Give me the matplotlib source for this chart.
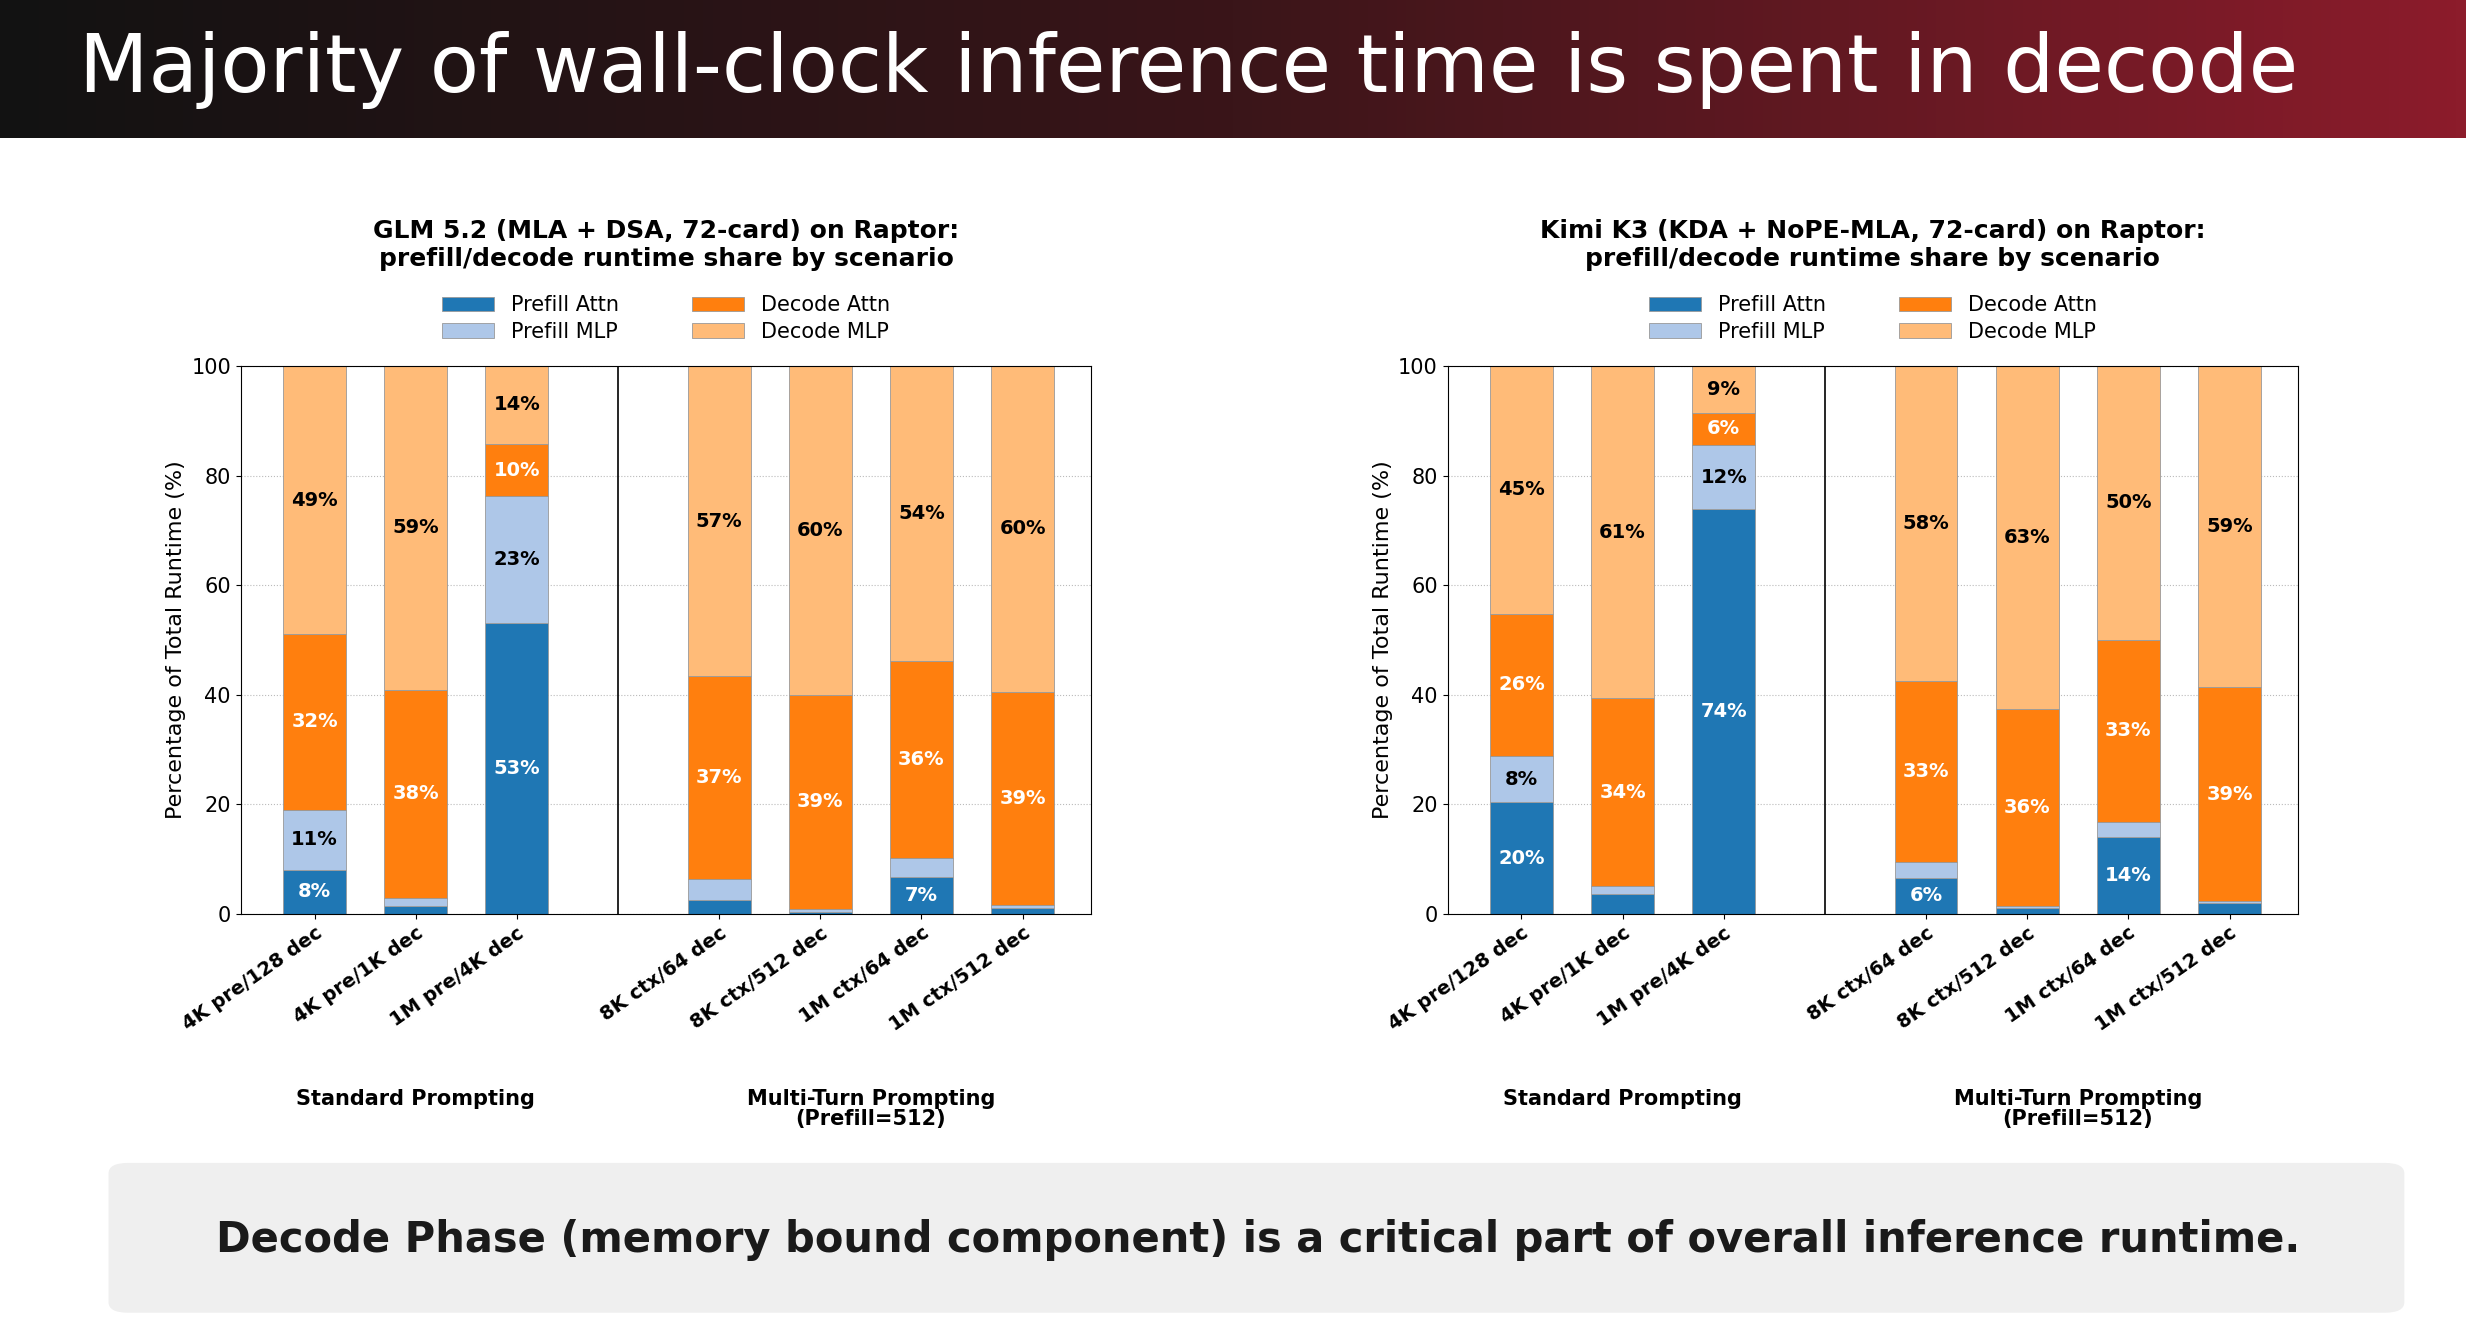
import matplotlib.pyplot as plt
import numpy as np
from matplotlib.patches import FancyBboxPatch
from matplotlib.colors import LinearSegmentedColormap

scenarios = ['4K pre/128 dec', '4K pre/1K dec', '1M pre/4K dec',
             '8K ctx/64 dec', '8K ctx/512 dec', '1M ctx/64 dec', '1M ctx/512 dec']
positions = [0, 1, 2, 4, 5, 6, 7]
series = ['Prefill Attn', 'Prefill MLP', 'Decode Attn', 'Decode MLP']
colors = ['#1f77b4', '#aec7e8', '#ff7f0e', '#ffbb78']
text_colors = ['white', 'black', 'white', 'black']

glm_prefill_attn = [8.0, 1.4, 53.0, 2.5, 0.3, 6.7, 1.0]
glm_prefill_mlp = [11.0, 1.5, 23.2, 3.8, 0.5, 3.5, 0.5]
glm_decode_attn = [32.0, 38.0, 9.6, 37.0, 39.2, 36.0, 39.0]
glm_decode_mlp = [49.0, 59.1, 14.2, 56.7, 60.0, 53.8, 59.5]

kimi_prefill_attn = [20.3, 3.5, 73.8, 6.5, 1.0, 14.0, 2.0]
kimi_prefill_mlp = [8.5, 1.5, 11.8, 3.0, 0.3, 2.7, 0.3]
kimi_decode_attn = [26.0, 34.3, 5.8, 33.0, 36.0, 33.3, 39.0]
kimi_decode_mlp = [45.2, 60.7, 8.6, 57.5, 62.7, 50.0, 58.7]

charts = [
    ('GLM 5.2 (MLA + DSA, 72-card) on Raptor:\nprefill/decode runtime share by scenario',
     [glm_prefill_attn, glm_prefill_mlp, glm_decode_attn, glm_decode_mlp]),
    ('Kimi K3 (KDA + NoPE-MLA, 72-card) on Raptor:\nprefill/decode runtime share by scenario',
     [kimi_prefill_attn, kimi_prefill_mlp, kimi_decode_attn, kimi_decode_mlp]),
]

fig = plt.figure(figsize=(24.66, 13.26), dpi=100)

# header banner with gradient
bg = fig.add_axes([0, 0.896, 1, 0.104])
cmap = LinearSegmentedColormap.from_list('hdr', ['#121212', '#3a1519', '#8c1c2b'])
bg.imshow(np.linspace(0, 1, 256)[None, :], aspect='auto', cmap=cmap, extent=[0, 1, 0, 1])
bg.set_axis_off()
fig.text(0.032, 0.947, 'Majority of wall-clock inference time is spent in decode',
         color='white', fontsize=58, va='center', ha='left')

# bottom callout
fig.patches.append(FancyBboxPatch((0.044, 0.01), 0.931, 0.113,
                                  boxstyle='round,pad=0,rounding_size=0.008',
                                  transform=fig.transFigure, facecolor='#efefef',
                                  edgecolor='none'))
fig.text(0.51, 0.065,
         'Decode Phase (memory bound component) is a critical part of overall inference runtime.',
         ha='center', va='center', fontsize=30, fontweight='bold', color='#1a1a1a')

lefts = [0.0976, 0.587]
for left, (title, data) in zip(lefts, charts):
    ax = fig.add_axes([left, 0.311, 0.345, 0.413])
    bottom = np.zeros(len(positions))
    for vals, name, col, tc in zip(data, series, colors, text_colors):
        vals = np.array(vals)
        ax.bar(positions, vals, 0.62, bottom=bottom, color=col, label=name,
               edgecolor='#999999', linewidth=0.6, zorder=2)
        for x, v, b in zip(positions, vals, bottom):
            if v >= 5:
                ax.text(x, b + v / 2, f'{v:.0f}%', ha='center', va='center',
                        color=tc, fontsize=14, fontweight='bold', zorder=3)
        bottom += vals
    ax.axvline(3, color='black', linewidth=1.2)
    ax.set_xlim(-0.73, 7.68)
    ax.set_ylim(0, 100)
    ax.set_yticks(range(0, 101, 20))
    ax.yaxis.grid(True, linestyle=':', color='#bbbbbb', zorder=0)
    ax.set_xticks(positions)
    ax.set_xticklabels(scenarios, rotation=35, ha='right', rotation_mode='anchor',
                       fontsize=14, fontweight='bold')
    ax.tick_params(axis='y', labelsize=15)
    ax.set_ylabel('Percentage of Total Runtime (%)', fontsize=16)
    ax.set_title(title, fontsize=18, fontweight='bold', pad=72)
    ax.legend(loc='lower center', bbox_to_anchor=(0.5, 1.01), ncol=2, frameon=False,
              fontsize=15, columnspacing=3.5, handlelength=2.5, labelspacing=0.3)
    tr = ax.get_xaxis_transform()
    ax.text(1, -0.32, 'Standard Prompting', transform=tr, ha='center', va='top',
            fontsize=15, fontweight='bold')
    ax.text(5.5, -0.32, 'Multi-Turn Prompting\n(Prefill=512)', transform=tr,
            ha='center', va='top', fontsize=15, fontweight='bold', linespacing=1.0)

fig.savefig('out.png', dpi=100)
